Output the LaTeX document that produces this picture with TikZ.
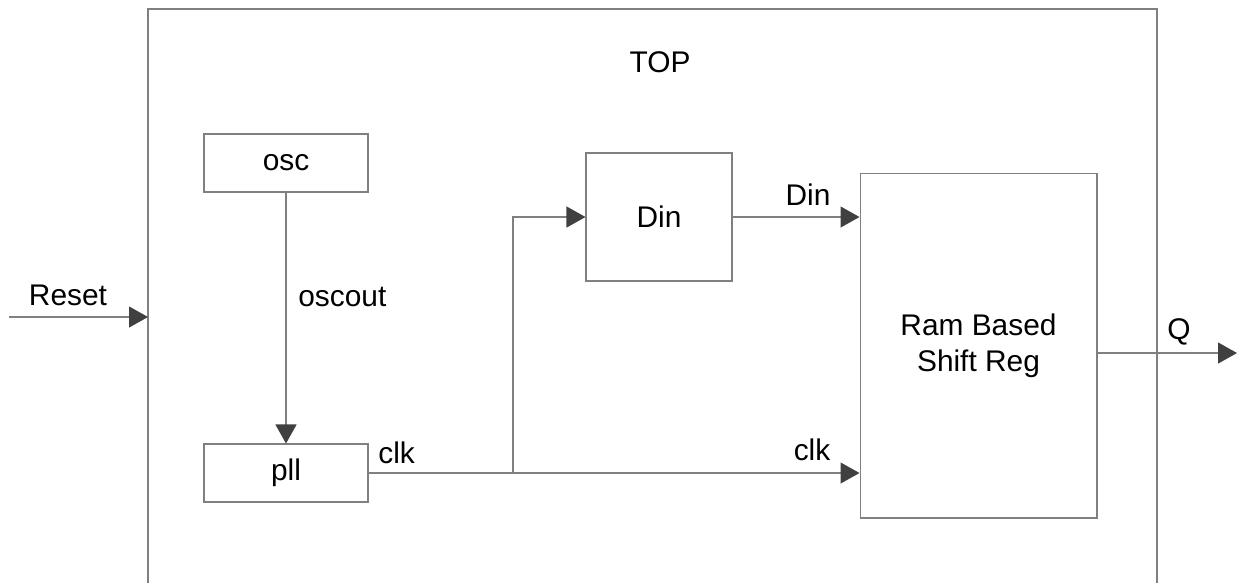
\documentclass[tikz,border=0pt]{standalone}
\usepackage{fontspec}
\setmainfont{Liberation Sans}
\usepackage{tikz}
\usetikzlibrary{positioning, arrows.meta, calc}
\usepackage{xcolor}
\definecolor{wiregray}{HTML}{808080}
\definecolor{tipgray}{HTML}{404040}
\tikzset{
  block/.style={draw=wiregray, line width=0.6pt, fill=white, inner sep=0pt},
  wire/.style={draw=wiregray, line width=0.6pt, -{Triangle[length=0.38cm, width=0.42cm, color=tipgray, fill=tipgray]}},
  plainwire/.style={draw=wiregray, line width=0.6pt},
  sig/.style={inner sep=0pt}
}

\begin{document}
\begin{tikzpicture}[x=0.02cm, y=-0.02cm, font=\fontsize{17}{20.5}\selectfont]
  \useasboundingbox (0,0) rectangle (1241,583);
  % frame of TOP, open at the bottom
  \draw[plainwire] (148,583) -- (148,9) -- (1157,9) -- (1157,583);
  \node[sig] (toplbl) at (660,62) {TOP};

  \node[block, minimum width=3.28cm, minimum height=1.16cm] (osc) at (286,163) {osc};
  \node[block, minimum width=3.28cm, minimum height=1.16cm] (pll) at (286,473) {pll};
  \node[block, minimum width=2.92cm, minimum height=2.56cm] (din) at (659,217) {Din};
  \node[block, minimum width=4.74cm, minimum height=6.9cm, align=center] (shiftreg) at (978.5,345.5) {Ram Based\\Shift Reg};

  \coordinate (rst) at (9,317);
  \coordinate (frameL) at (148,317);
  \coordinate (split) at (513,473);
  \coordinate (qout) at (1237,353);

  \draw[wire] (rst) -- (frameL);
  \draw[wire] (osc) -- (pll);
  \draw[wire] (pll.east) -- (pll.east -| shiftreg.west);
  \draw[wire] (split) |- (din.west);
  \draw[wire] (din.east) -- (din.east -| shiftreg.west);
  \draw[wire] (shiftreg.east |- qout) -- (qout);

  \node[sig] (resetlbl) at (68,295) {Reset};
  \node[sig, anchor=west] (osclbl) at (298,297) {oscout};
  \node[sig, anchor=west] (clklbl) at (378,453) {clk};
  \node[sig] (dinlbl) at (808,195) {Din};
  \node[sig] (clkinlbl) at (812,450) {clk};
  \node[sig] (qlbl) at (1179,332) {Q};
\end{tikzpicture}
\end{document}
